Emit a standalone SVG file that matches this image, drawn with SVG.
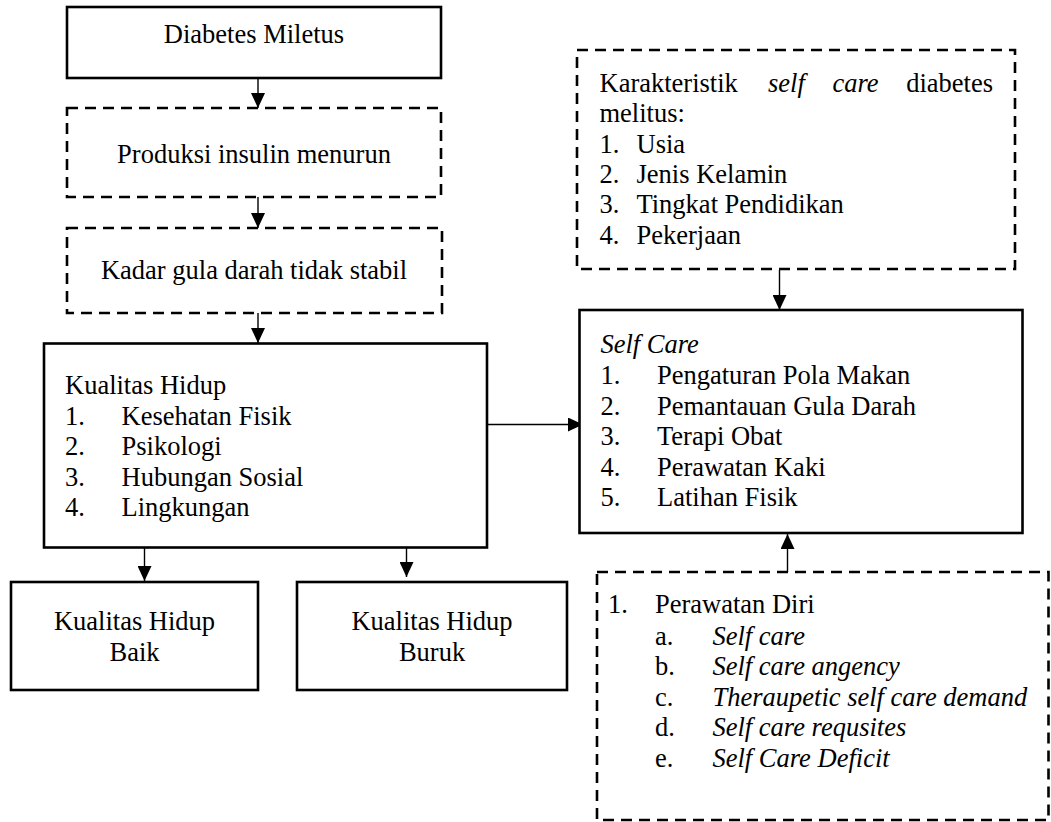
<svg xmlns="http://www.w3.org/2000/svg" width="1051" height="822" viewBox="0 0 1051 822">
<defs>
<style>
.box{fill:#fff;stroke:#000;stroke-width:2.6}
.dash{fill:#fff;stroke:#000;stroke-width:2.6;stroke-dasharray:11 7}
.t{font-family:"Liberation Serif","Times New Roman",serif;font-size:26.5px;fill:#000}
.c{text-anchor:middle}
.i{font-style:italic}
.ln{stroke:#000;stroke-width:1.4;fill:none;marker-end:url(#ah)}
</style>
<marker id="ah" viewBox="0 0 15 14" refX="15" refY="7" markerWidth="15" markerHeight="14" markerUnits="userSpaceOnUse" orient="auto">
<path d="M0,0 L15,7 L0,14 Z" fill="#000"/>
</marker>
</defs>
<rect width="1051" height="822" fill="#fff"/>

<g id="connectors">
<line class="ln" x1="258" y1="78" x2="258" y2="108"/>
<line class="ln" x1="258" y1="197" x2="258" y2="228"/>
<line class="ln" x1="258" y1="313" x2="258" y2="343"/>
<line class="ln" x1="487" y1="424.5" x2="583" y2="424.5"/>
<line class="ln" x1="779.5" y1="270" x2="779.5" y2="310"/>
<line class="ln" x1="787.5" y1="572" x2="787.5" y2="534"/>
<line class="ln" x1="144.5" y1="548" x2="144.5" y2="581"/>
<line class="ln" x1="406.5" y1="548" x2="406.5" y2="577"/>
</g>

<g id="node-diabetes">
<rect class="box" x="67" y="7" width="374" height="71"/>
<text class="t c" x="254" y="43">Diabetes Miletus</text>
</g>

<g id="node-produksi">
<rect class="dash" x="67" y="108" width="374" height="89"/>
<text class="t c" x="254" y="163">Produksi insulin menurun</text>
</g>

<g id="node-kadar">
<rect class="dash" x="67" y="228" width="375" height="85"/>
<text class="t c" x="254" y="279">Kadar gula darah tidak stabil</text>
</g>

<g id="node-kualitas">
<rect class="box" x="44" y="343.5" width="443" height="204"/>
<text class="t" x="65" y="394">Kualitas Hidup</text>
<text class="t" x="65" y="424.5">1.</text><text class="t" x="121.5" y="424.5">Kesehatan Fisik</text>
<text class="t" x="65" y="455">2.</text><text class="t" x="121.5" y="455">Psikologi</text>
<text class="t" x="65" y="485.5">3.</text><text class="t" x="121.5" y="485.5">Hubungan Sosial</text>
<text class="t" x="65" y="516">4.</text><text class="t" x="121.5" y="516">Lingkungan</text>
</g>

<g id="node-baik">
<rect class="box" x="11" y="582" width="247" height="108"/>
<text class="t c" x="134.5" y="630">Kualitas Hidup</text>
<text class="t c" x="134.5" y="661">Baik</text>
</g>

<g id="node-buruk">
<rect class="box" x="297" y="582" width="270" height="108"/>
<text class="t c" x="432" y="630">Kualitas Hidup</text>
<text class="t c" x="432" y="661">Buruk</text>
</g>

<g id="node-karakteristik">
<rect class="dash" x="577" y="50" width="438" height="219"/>
<text class="t" x="599.5" y="92">Karakteristik</text>
<text class="t i" x="768" y="92">self</text>
<text class="t i" x="832.5" y="92">care</text>
<text class="t" x="993" y="92" text-anchor="end">diabetes</text>
<text class="t" x="599.5" y="122">melitus:</text>
<text class="t" x="599.5" y="152.5">1.</text><text class="t" x="636.5" y="152.5">Usia</text>
<text class="t" x="599.5" y="183">2.</text><text class="t" x="636.5" y="183">Jenis Kelamin</text>
<text class="t" x="599.5" y="213">3.</text><text class="t" x="636.5" y="213">Tingkat Pendidikan</text>
<text class="t" x="599.5" y="243.5">4.</text><text class="t" x="636.5" y="243.5">Pekerjaan</text>
</g>

<g id="node-selfcare">
<rect class="box" x="579.5" y="310" width="443" height="223"/>
<text class="t i" x="600.5" y="353">Self Care</text>
<text class="t" x="600.5" y="384">1.</text><text class="t" x="657" y="384">Pengaturan Pola Makan</text>
<text class="t" x="600.5" y="414.5">2.</text><text class="t" x="657" y="414.5">Pemantauan Gula Darah</text>
<text class="t" x="600.5" y="445">3.</text><text class="t" x="657" y="445">Terapi Obat</text>
<text class="t" x="600.5" y="475.5">4.</text><text class="t" x="657" y="475.5">Perawatan Kaki</text>
<text class="t" x="600.5" y="506">5.</text><text class="t" x="657" y="506">Latihan Fisik</text>
</g>

<g id="node-perawatan">
<rect class="dash" x="597" y="572" width="451.5" height="248"/>
<text class="t" x="608" y="613">1.</text><text class="t" x="655" y="613">Perawatan Diri</text>
<text class="t" x="655" y="644.5">a.</text><text class="t i" x="712.5" y="644.5">Self care</text>
<text class="t" x="655" y="675">b.</text><text class="t i" x="712.5" y="675">Self care angency</text>
<text class="t" x="655" y="705.5">c.</text><text class="t i" x="712.5" y="705.5">Theraupetic self care demand</text>
<text class="t" x="655" y="736">d.</text><text class="t i" x="712.5" y="736">Self care requsites</text>
<text class="t" x="655" y="766.5">e.</text><text class="t i" x="712.5" y="766.5">Self Care Deficit</text>
</g>
</svg>
